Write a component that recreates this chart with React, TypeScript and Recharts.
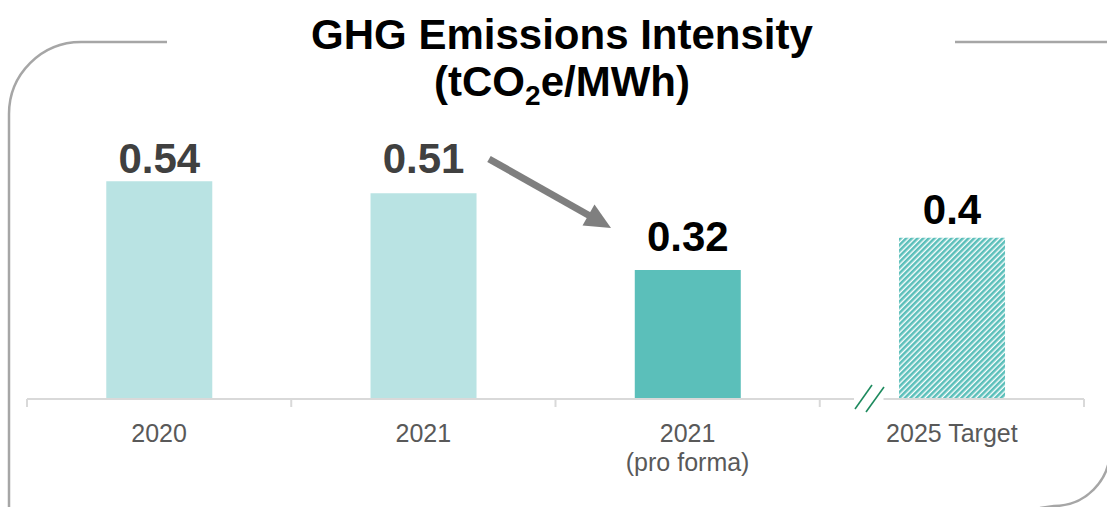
import React from 'react';
import { BarChart, Bar, XAxis, YAxis, Cell, LabelList } from 'recharts';

const categories = ['2020', '2021', '2021\n(pro forma)', '2025 Target'];
const intensity = [0.54, 0.51, 0.32, 0.4];
const titleLine1 = 'GHG Emissions Intensity';

const data = categories.map((c, i) => ({ category: c, value: intensity[i] }));

const FONT = '"Liberation Sans", Arial, Helvetica, sans-serif';
const barFills = ['#b9e3e3', '#b9e3e3', '#5bbfba', 'url(#hatch)'];
const labelGap = [8, 20, 19, 14];
const labelColor = ['#404040', '#404040', '#000000', '#000000'];

const CategoryTick = (props: any) => {
  const { x, y, payload, index, visibleTicksCount, width } = props;
  const lines = String(payload.value).split('\n');
  let off = payload && typeof payload.offset === 'number' && payload.offset > 0 ? payload.offset : 0;
  if (!off && width && visibleTicksCount) off = width / visibleTicksCount / 2;
  const isLast = visibleTicksCount ? index === visibleTicksCount - 1 : false;
  return (
    <g>
      <line x1={x - off} x2={x - off} y1={y} y2={y + 8} stroke="#d9d9d9" strokeWidth={2} />
      {isLast && <line x1={x + off} x2={x + off} y1={y} y2={y + 8} stroke="#d9d9d9" strokeWidth={2} />}
      <text textAnchor="middle" fill="#595959" fontSize={25} fontFamily={FONT}>
        {lines.map((l, i) => (
          <tspan key={i} x={x} y={y + 43 + i * 29}>
            {l}
          </tspan>
        ))}
      </text>
    </g>
  );
};

const ValueLabel = (props: any) => {
  const { x, y, width, value, index } = props;
  return (
    <text
      x={Number(x) + Number(width) / 2}
      y={Number(y) - labelGap[index]}
      textAnchor="middle"
      fontSize={42}
      fontWeight="bold"
      fill={labelColor[index]}
      fontFamily={FONT}
    >
      {String(value)}
    </text>
  );
};

export default function App() {
  return (
    <div style={{ position: 'absolute', left: 0, top: 0, width: 1107, height: 507, background: '#fff' }}>
      <BarChart
        width={1107}
        height={507}
        data={data}
        margin={{ top: 157, right: 23, bottom: 48, left: 27 }}
        barCategoryGap="30%"
      >
        <YAxis hide domain={[0, 0.6]} />
        <XAxis
          dataKey="category"
          height={60}
          axisLine={{ stroke: '#d9d9d9', strokeWidth: 2 }}
          tickLine={false}
          tickSize={0}
          tickMargin={0}
          interval={0}
          tick={<CategoryTick />}
        />
        <Bar dataKey="value" isAnimationActive={false}>
          {data.map((d, i) => (
            <Cell key={d.category} fill={barFills[i]} />
          ))}
          <LabelList dataKey="value" content={<ValueLabel />} />
        </Bar>
      </BarChart>
      <svg
        width={1107}
        height={507}
        style={{ position: 'absolute', left: 0, top: 0, pointerEvents: 'none' }}
      >
        <defs>
          <pattern id="hatch" width="4" height="4" patternUnits="userSpaceOnUse" patternTransform="rotate(45)">
            <rect width="4" height="4" fill="#ffffff" />
            <rect width="2.6" height="4" fill="#5bbfba" />
          </pattern>
        </defs>
        {/* frame */}
        <path d="M 9 508 L 9 114 A 72 72 0 0 1 81 42 L 167 42" fill="none" stroke="#a6a6a6" strokeWidth={2.5} />
        <path d="M 955 42 L 1108 42" fill="none" stroke="#a6a6a6" strokeWidth={2.5} />
        <path d="M 1110 430 L 1110 450 A 56 56 0 0 1 1054 506 L 1040 508" fill="none" stroke="#a6a6a6" strokeWidth={2.5} />
        {/* title */}
        <text x={562} y={49} textAnchor="middle" fontSize={42} fontWeight="bold" fill="#000" fontFamily={FONT}>
          {titleLine1}
        </text>
        <text x={562} y={96} textAnchor="middle" fontSize={42} fontWeight="bold" fill="#000" fontFamily={FONT}>
          <tspan>(tCO</tspan>
          <tspan dy={9} fontSize={28}>2</tspan>
          <tspan dy={-9}>e/MWh)</tspan>
        </text>
        {/* arrow */}
        <line x1={489} y1={159} x2={590} y2={216} stroke="#7f7f7f" strokeWidth={7} />
        <polygon points="611,228 582.5,225.4 594.5,204.6" fill="#7f7f7f" />
        {/* axis break */}
        <rect x={854} y={395} width={29.5} height={8} fill="#ffffff" />
        <line x1={855} y1={409} x2={872} y2={385} stroke="#1d8a5e" strokeWidth={1.6} />
        <line x1={866} y1={412} x2={884} y2={387} stroke="#1d8a5e" strokeWidth={1.6} />
      </svg>
    </div>
  );
}
